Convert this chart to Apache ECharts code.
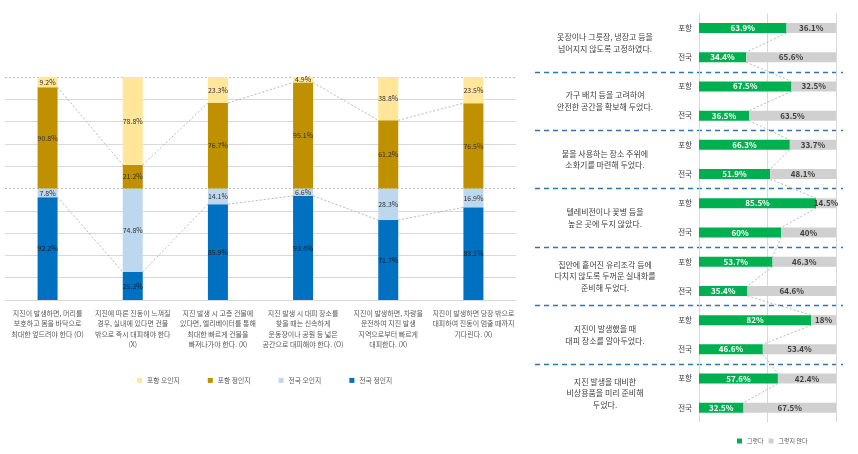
<!DOCTYPE html>
<html><head><meta charset="utf-8">
<script src="https://cdn.jsdelivr.net/npm/echarts@6/dist/echarts.min.js"></script>
<style>html,body{margin:0;padding:0;background:#fff}#c{width:858px;height:454px}</style>
</head><body><div id="c"></div>
<script>
// ---- Left chart data ----
const leftCats = [
  '지진이 발생하면, 머리를\n보호하고 몸을 바닥으로\n최대한 엎드려야 한다 (O)',
  '지진에 따른 진동이 느껴질\n경우, 실내에 있다면 건물\n밖으로 즉시 대피해야 한다\n(X)',
  '지진 발생 시 고층 건물에\n있다면, 엘리베이터를 통해\n최대한 빠르게 건물을\n빠져나가야 한다. (X)',
  '지진 발생 시 대피 장소를\n찾을 때는 신속하게\n운동장이나 공원 등 넓은\n공간으로 대피해야 한다. (O)',
  '지진이 발생하면, 차량을\n운전하여 지진 발생\n지역으로부터 빠르게\n대피한다. (X)',
  '지진이 발생하면 당장 밖으로\n대피하여 진동이 멈출 때까지\n기다린다. (X)'
];
const pohangRight = [90.8, 21.2, 76.7, 95.1, 61.2, 76.5];
const pohangWrong = [9.2, 78.8, 23.3, 4.9, 38.8, 23.5];
const nationWrong = [7.8, 74.8, 14.1, 6.6, 28.3, 16.9];
const nationRight = [92.2, 25.2, 85.9, 93.4, 71.7, 83.1];

// ---- Right chart data ----
const questions = [
  '옷장이나 그릇장, 냉장고 등을\n넘어지지 않도록 고정하였다.',
  '가구 배치 등을 고려하여\n안전한 공간을 확보해 두었다.',
  '불을 사용하는 장소 주위에\n소화기를 마련해 두었다.',
  '텔레비전이나 꽃병 등을\n높은 곳에 두지 않았다.',
  '집안에 흩어진 유리조각 등에\n다치지 않도록 두꺼운 실내화를\n준비해 두었다.',
  '지진이 발생했을 때\n대피 장소를 알아두었다.',
  '지진 발생을 대비한\n비상용품을 미리 준비해\n두었다.'
];
const regions = ['포항', '전국'];
const pohangYes = [63.9, 67.5, 66.3, 85.5, 53.7, 82, 57.6];
const pohangNo  = [36.1, 32.5, 33.7, 14.5, 46.3, 18, 42.4];
const nationYes = [34.4, 36.5, 51.9, 60, 35.4, 46.6, 32.5];
const nationNo  = [65.6, 63.5, 48.1, 40, 64.6, 53.4, 67.5];

// interleave rows: 포항, 전국 per question
const rowLabels = [], yesVals = [], noVals = [];
for (let q = 0; q < questions.length; q++) {
  rowLabels.push(regions[0], regions[1]);
  yesVals.push(pohangYes[q], nationYes[q]);
  noVals.push(pohangNo[q], nationNo[q]);
}

const FONT = 'Noto Sans CJK KR';
const C = {
  blue: '#0070C0', lblue: '#BDD7EE', gold: '#BF9000', yellow: '#FFE699',
  green: '#00B050', gray: '#D0D0D0'
};
const LBW = 20, RBW = 10;

// series-line data (left): blue top and gold top
const lineBlue = [], lineGold = [];
for (let i = 0; i < leftCats.length - 1; i++) {
  lineBlue.push([i, nationRight[i], nationRight[i + 1]]);
  lineGold.push([i, 100 + pohangRight[i], 100 + pohangRight[i + 1]]);
}
const rightLines = [];
for (let k = 0; k < yesVals.length - 1; k++) rightLines.push([k, yesVals[k], yesVals[k + 1]]);

const dash = {stroke: '#A6A6A6', lineWidth: 0.8, lineDash: [2, 2], fill: null};

const leftLabel = {show: true, position: 'inside', fontSize: 7, color: '#333', fontFamily: FONT, formatter: '{c}%'};
const gridColors = [];
for (let i = 0; i <= 10; i++) gridColors.push(i === 5 || i === 10 || i === 0 ? 'rgba(0,0,0,0)' : '#D9D9D9');

const option = {
  animation: false,
  textStyle: {fontFamily: FONT},
  grid: [
    {left: 5, right: 342, top: 77, height: 223},
    {left: 699, right: 22, top: 13.4, height: 409},
    {left: 535, right: 15, top: 13.4, height: 409}
  ],
  legend: [
    {data: ['포항 오인지', '포항 정인지', '전국 오인지', '전국 정인지'], left: 132, top: 372,
     icon: 'rect', itemWidth: 5, itemHeight: 5, itemGap: 28,
     textStyle: {fontSize: 6.8, color: '#595959', fontFamily: FONT}},
    {data: ['그렇다', '그렇지 않다'], left: 732, top: 433,
     icon: 'rect', itemWidth: 5, itemHeight: 5, itemGap: 5,
     textStyle: {fontSize: 6, color: '#595959', fontFamily: FONT}}
  ],
  xAxis: [
    {gridIndex: 0, type: 'category', data: leftCats,
     axisLine: {lineStyle: {color: '#D9D9D9'}}, axisTick: {show: false},
     axisLabel: {interval: 0, fontSize: 7, lineHeight: 10.5, color: '#595959', margin: 8, fontFamily: FONT}},
    {gridIndex: 1, type: 'value', min: 0, max: 100, interval: 50,
     axisLabel: {show: false}, axisLine: {show: false}, axisTick: {show: false},
     splitLine: {lineStyle: {color: '#D9D9D9'}}},
    {gridIndex: 2, type: 'value', show: false}
  ],
  yAxis: [
    {gridIndex: 0, type: 'value', min: 0, max: 200, interval: 20,
     axisLabel: {show: false}, axisLine: {show: false}, axisTick: {show: false},
     splitLine: {lineStyle: {color: gridColors, width: 1}}},
    {gridIndex: 0, type: 'value', min: 0, max: 200, interval: 100, position: 'right',
     axisLabel: {show: false}, axisLine: {show: false}, axisTick: {show: false},
     splitLine: {lineStyle: {color: '#BFBFBF', type: [2, 2], width: 1}}},
    {gridIndex: 1, type: 'category', data: rowLabels, inverse: true,
     axisLine: {show: false}, axisTick: {show: false},
     axisLabel: {fontSize: 7.5, color: '#404040', margin: 7, fontFamily: FONT}},
    {gridIndex: 2, type: 'category', data: questions, inverse: true,
     axisLine: {show: false}, axisTick: {show: false},
     axisLabel: {inside: true, align: 'center', margin: 70, fontSize: 8, lineHeight: 11.7, color: '#404040', fontFamily: FONT},
     splitLine: {show: true, showMinLine: false, showMaxLine: false,
                 lineStyle: {color: '#2E75B6', type: [5, 4], width: 1.3}}}
  ],
  series: [
    {name: '전국 정인지', type: 'bar', stack: 'L', xAxisIndex: 0, yAxisIndex: 0, barWidth: LBW,
     data: nationRight, itemStyle: {color: C.blue}, label: Object.assign({}, leftLabel, {color: '#1a1a1a'})},
    {name: '전국 오인지', type: 'bar', stack: 'L', xAxisIndex: 0, yAxisIndex: 0, barWidth: LBW,
     data: nationWrong, itemStyle: {color: C.lblue}, label: leftLabel},
    {name: '포항 정인지', type: 'bar', stack: 'L', xAxisIndex: 0, yAxisIndex: 0, barWidth: LBW,
     data: pohangRight, itemStyle: {color: C.gold}, label: leftLabel},
    {name: '포항 오인지', type: 'bar', stack: 'L', xAxisIndex: 0, yAxisIndex: 0, barWidth: LBW,
     data: pohangWrong, itemStyle: {color: C.yellow}, label: leftLabel},
    {type: 'custom', xAxisIndex: 0, yAxisIndex: 0, data: lineBlue.concat(lineGold), silent: true, z: 5,
     renderItem: function (params, api) {
       const i = api.value(0);
       const p1 = api.coord([i, api.value(1)]), p2 = api.coord([i + 1, api.value(2)]);
       return {type: 'line', shape: {x1: p1[0] + LBW / 2, y1: p1[1], x2: p2[0] - LBW / 2, y2: p2[1]}, style: dash};
     }},
    {name: '그렇다', type: 'bar', stack: 'R', xAxisIndex: 1, yAxisIndex: 2, barWidth: RBW,
     data: yesVals, itemStyle: {color: C.green},
     label: {show: true, position: 'inside', fontSize: 8, fontWeight: 'bold', color: '#fff', fontFamily: FONT, formatter: '{c}%'}},
    {name: '그렇지 않다', type: 'bar', stack: 'R', xAxisIndex: 1, yAxisIndex: 2, barWidth: RBW,
     data: noVals, itemStyle: {color: C.gray},
     label: {show: true, position: 'inside', fontSize: 8, fontWeight: 'bold', color: '#404040', fontFamily: FONT, formatter: '{c}%'}},
    {type: 'custom', xAxisIndex: 1, yAxisIndex: 2, data: rightLines, silent: true, z: 5,
     renderItem: function (params, api) {
       const k = api.value(0);
       const p1 = api.coord([api.value(1), k]), p2 = api.coord([api.value(2), k + 1]);
       return {type: 'line', shape: {x1: p1[0], y1: p1[1] + RBW / 2, x2: p2[0], y2: p2[1] - RBW / 2}, style: dash};
     }}
  ]
};
const chart = echarts.init(document.getElementById('c'), null, {renderer: 'canvas'});
chart.setOption(option);
</script></body></html>
